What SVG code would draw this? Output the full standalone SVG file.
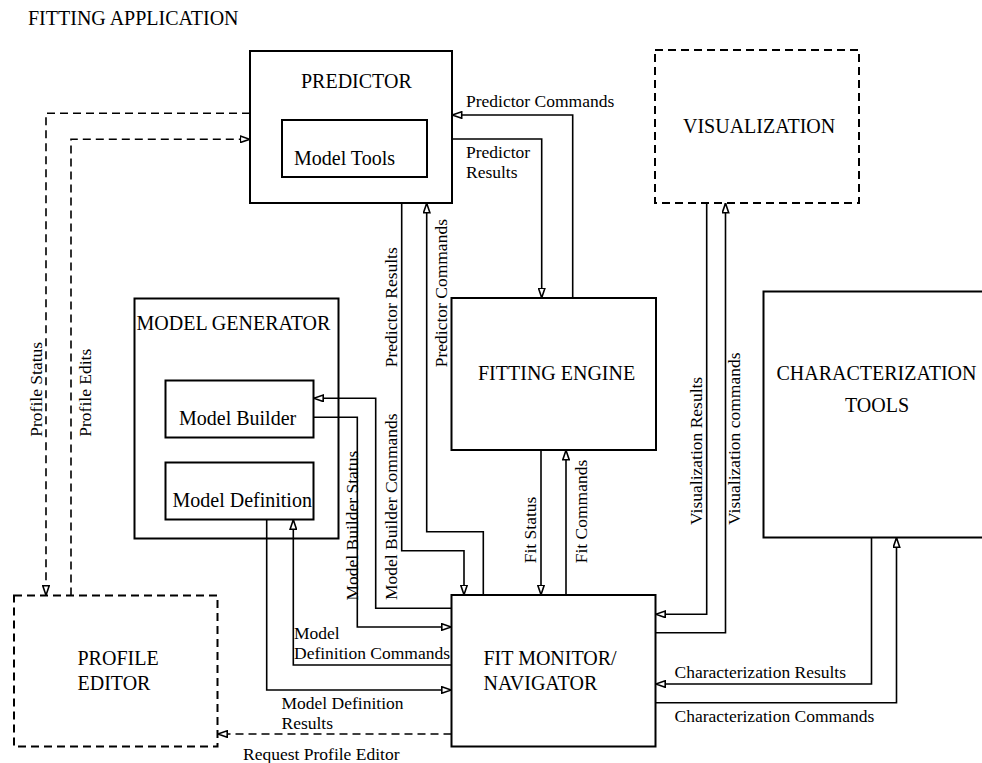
<svg xmlns="http://www.w3.org/2000/svg" width="982" height="763" viewBox="0 0 982 763">
<style>
  text { font-family: "Liberation Serif", "Times New Roman", serif; fill: #000; }
  .t { font-size: 20px; }
  .l { font-size: 17.5px; }
  .box { fill: none; stroke: #000; stroke-width: 2; }
  .dbox { fill: none; stroke: #000; stroke-width: 2; stroke-dasharray: 8 5; }
  .ln { fill: none; stroke: #000; stroke-width: 1.6; }
  .arr { marker-end: url(#ah); }
  .dl { fill: none; stroke: #000; stroke-width: 1.6; stroke-dasharray: 8 5; }
</style>
<defs>
  <marker id="ah" viewBox="0 0 11 8" refX="10.5" refY="4" markerWidth="11" markerHeight="8" orient="auto" markerUnits="userSpaceOnUse">
    <path d="M0.8,0.8 L10.2,4 L0.8,7.2 Z" fill="#fff" stroke="#000" stroke-width="1.6" stroke-linejoin="miter"/>
  </marker>
</defs>
<rect x="0" y="0" width="982" height="763" fill="#fff"/>

<text id="title" class="t" x="28" y="25">FITTING APPLICATION</text>

<g id="predictor">
  <rect class="box" x="250" y="51" width="202" height="152"/>
  <text class="t" x="301" y="88">PREDICTOR</text>
  <g id="model-tools">
    <rect class="box" x="282" y="120" width="145" height="57"/>
    <text class="t" x="294" y="165">Model Tools</text>
  </g>
</g>

<g id="visualization">
  <rect class="dbox" x="655" y="50" width="204" height="153"/>
  <text class="t" x="683" y="133">VISUALIZATION</text>
</g>

<g id="model-generator">
  <rect class="box" x="134.5" y="298.5" width="204" height="240"/>
  <text class="t" x="136.5" y="330">MODEL GENERATOR</text>
  <g id="model-builder">
    <rect class="box" x="165.5" y="380.5" width="148" height="57"/>
    <text class="t" x="179" y="425">Model Builder</text>
  </g>
  <g id="model-definition">
    <rect class="box" x="165.5" y="462.5" width="148" height="57"/>
    <text class="t" x="172.5" y="506.5">Model Definition</text>
  </g>
</g>

<g id="fitting-engine">
  <rect class="box" x="451.5" y="298" width="204.5" height="152"/>
  <text class="t" x="478" y="380">FITTING ENGINE</text>
</g>

<g id="characterization-tools">
  <rect class="box" x="763.5" y="291.5" width="230" height="246"/>
  <text class="t" x="776.5" y="380">CHARACTERIZATION</text>
  <text class="t" x="845" y="411.5">TOOLS</text>
</g>

<g id="profile-editor">
  <rect class="dbox" x="14" y="595.5" width="203.5" height="151"/>
  <text class="t" x="77.5" y="665">PROFILE</text>
  <text class="t" x="77.5" y="690">EDITOR</text>
</g>

<g id="fit-monitor">
  <rect class="box" x="451.5" y="595" width="204" height="151.5"/>
  <text class="t" x="483.5" y="665">FIT MONITOR/</text>
  <text class="t" x="483.5" y="690">NAVIGATOR</text>
</g>

<g id="connectors">
  <!-- Predictor <-> Fitting Engine -->
  <polyline class="ln arr" points="572.7,298 572.7,115 452,115"/>
  <text class="l" x="466" y="106.5">Predictor Commands</text>
  <polyline class="ln arr" points="452,139 541.7,139 541.7,298"/>
  <text class="l" x="466" y="157.5">Predictor</text>
  <text class="l" x="466" y="177.5">Results</text>

  <!-- Predictor <-> Fit Monitor -->
  <polyline class="ln arr" points="401.7,203 401.7,550.7 464,550.7 464,595"/>
  <text class="l" transform="translate(396.5,367.3) rotate(-90)">Predictor Results</text>
  <polyline class="ln arr" points="483.3,595 483.3,531.7 426.7,531.7 426.7,203"/>
  <text class="l" transform="translate(446.5,367.3) rotate(-90)">Predictor Commands</text>

  <!-- Fitting Engine <-> Fit Monitor -->
  <polyline class="ln arr" points="541,450 541,595"/>
  <text class="l" transform="translate(535.5,563.3) rotate(-90)">Fit Status</text>
  <polyline class="ln arr" points="566,595 566,450"/>
  <text class="l" transform="translate(586.5,563.3) rotate(-90)">Fit Commands</text>

  <!-- Model Builder <-> Fit Monitor -->
  <polyline class="ln arr" points="313.5,417.3 357.3,417.3 357.3,627 451.5,627"/>
  <text class="l" transform="translate(358,600.5) rotate(-90)">Model Builder Status</text>
  <polyline class="ln arr" points="451.5,608.3 375.7,608.3 375.7,398.3 313.5,398.3"/>
  <text class="l" transform="translate(396.5,600) rotate(-90)">Model Builder Commands</text>

  <!-- Model Definition <-> Fit Monitor -->
  <polyline class="ln arr" points="451.5,665 293.3,665 293.3,519.5"/>
  <text class="l" x="294" y="639">Model</text>
  <text class="l" x="294" y="659">Definition Commands</text>
  <polyline class="ln arr" points="266.7,519.5 266.7,690 451.5,690"/>
  <text class="l" x="281.5" y="709">Model Definition</text>
  <text class="l" x="281.5" y="729">Results</text>

  <!-- Visualization <-> Fit Monitor -->
  <polyline class="ln arr" points="706.7,203 706.7,614.3 655.5,614.3"/>
  <text class="l" transform="translate(701.5,525) rotate(-90)">Visualization Results</text>
  <polyline class="ln arr" points="655.5,632.7 725.5,632.7 725.5,203"/>
  <text class="l" transform="translate(740,525) rotate(-90)">Visualization commands</text>

  <!-- Characterization Tools <-> Fit Monitor -->
  <polyline class="ln arr" points="871.5,537.5 871.5,684 655.5,684"/>
  <text class="l" x="674.5" y="677.5">Characterization Results</text>
  <polyline class="ln arr" points="655.5,702.7 896.5,702.7 896.5,537.5"/>
  <text class="l" x="674.5" y="721.5">Characterization Commands</text>

  <!-- Profile Editor (dashed) -->
  <polyline class="dl arr" points="250,113.3 46,113.3 46,595.5"/>
  <text class="l" transform="translate(41.7,436.7) rotate(-90)">Profile Status</text>
  <polyline class="dl arr" points="71,595.5 71,139.3 250,139.3"/>
  <text class="l" transform="translate(90.7,436.7) rotate(-90)">Profile Edits</text>
  <polyline class="dl arr" points="451.5,734 217.5,734"/>
  <text class="l" x="243" y="760">Request Profile Editor</text>
</g>
</svg>
